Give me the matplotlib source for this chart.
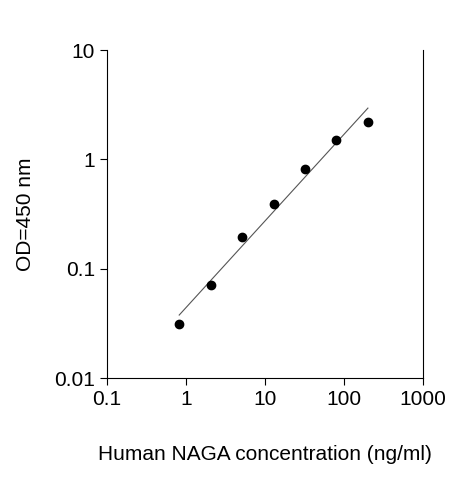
import numpy as np
import matplotlib
matplotlib.use("Agg")
import matplotlib.pyplot as plt
from matplotlib.ticker import FixedLocator, FixedFormatter, NullLocator

plt.rcParams['font.family'] = ['Liberation Sans', 'DejaVu Sans']

conc = [0.82, 2.05, 5.12, 12.8, 32.0, 80.0, 200.0]
od = [0.031, 0.071, 0.195, 0.39, 0.82, 1.5, 2.22]
xticks = [0.1, 1, 10, 100, 1000]
xlabels = ["0.1", "1", "10", "100", "1000"]
yticks = [0.01, 0.1, 1, 10]
ylabels = ["0.01", "0.1", "1", "10"]

fig = plt.figure(figsize=(4.63, 4.8), dpi=100)
ax = fig.add_axes([0.231, 0.2125, 0.683, 0.683])

# log-log linear fit
lx, ly = np.log10(conc), np.log10(od)
k, b = np.polyfit(lx, ly, 1)
fx = np.array([conc[0], conc[-1]])
ax.plot(fx, 10 ** (k * np.log10(fx) + b), color="#555555", lw=0.8)
ax.plot(conc, od, "o", color="black", ms=6)

ax.set_xscale("log")
ax.set_yscale("log")
ax.set_xlim(0.1, 1000)
ax.set_ylim(0.01, 10)
ax.xaxis.set_major_locator(FixedLocator(xticks))
ax.xaxis.set_major_formatter(FixedFormatter(xlabels))
ax.yaxis.set_major_locator(FixedLocator(yticks))
ax.yaxis.set_major_formatter(FixedFormatter(ylabels))
ax.xaxis.set_minor_locator(NullLocator())
ax.yaxis.set_minor_locator(NullLocator())
ax.spines["top"].set_visible(False)
ax.tick_params(direction="out", labelsize=15, length=5)
ax.set_xlabel("Human NAGA concentration (ng/ml)", fontsize=15, labelpad=26)
ax.set_ylabel("OD=450 nm", fontsize=15, labelpad=14)

fig.savefig("out.png", dpi=100)
